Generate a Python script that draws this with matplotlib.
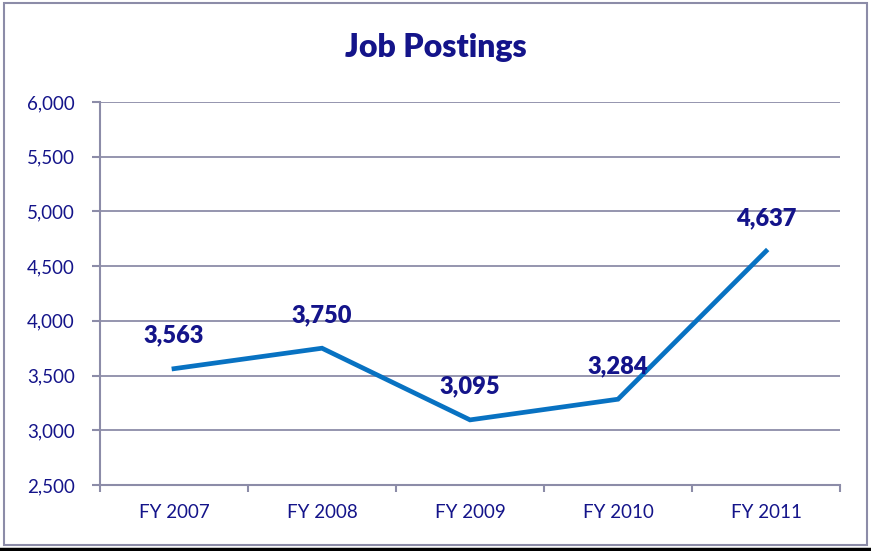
import matplotlib.pyplot as plt
from matplotlib.patches import Rectangle
from matplotlib.lines import Line2D

plt.rcParams['font.family'] = ['Lato', 'DejaVu Sans']

# -------- DATA --------
years = ['FY 2007', 'FY 2008', 'FY 2009', 'FY 2010', 'FY 2011']
postings = [3563, 3750, 3095, 3284, 4637]
y_ticks = [2500, 3000, 3500, 4000, 4500, 5000, 5500, 6000]

navy = '#14148A'
grid_col = '#8C8CA8'
line_col = '#0872C2'

fig = plt.figure(figsize=(8.71, 5.51), dpi=100)
ax = fig.add_axes([100 / 871, 1 - 485 / 551, 740 / 871, 383 / 551])

x = [i + 0.5 for i in range(len(years))]
ax.plot(x, postings, color=line_col, lw=3.4, solid_joinstyle='miter')

for xi, v in zip(x, postings):
    ax.annotate(f"{v:,}", (xi, v), xytext=(0, 24), textcoords='offset points',
                ha='center', va='center', fontsize=17, fontweight='heavy', color=navy)

ax.set_xlim(0, len(years))
ax.set_ylim(2500, 6000)
ax.set_yticks(y_ticks)
ax.set_yticklabels([f"{t:,}" for t in y_ticks], color=navy, fontsize=13.5)
ax.set_xticks(range(len(years) + 1))
ax.set_xticklabels([])
ax.set_xticks(x, minor=True)
ax.set_xticklabels(years, minor=True, color=navy, fontsize=13.5)
ax.tick_params(axis='x', which='minor', length=0, pad=14)
ax.tick_params(axis='x', which='major', length=5, color=grid_col, width=1.5)
ax.tick_params(axis='y', length=6, color=grid_col, width=1.5, pad=12)

ax.grid(axis='y', color=grid_col, lw=1.3)
ax.set_axisbelow(True)
for s in ['top', 'right']:
    ax.spines[s].set_visible(False)
for s in ['left', 'bottom']:
    ax.spines[s].set_color(grid_col)
    ax.spines[s].set_linewidth(1.5)

fig.text(436 / 871, 1 - 47 / 551, 'Job Postings', ha='center', va='center',
         fontsize=23, fontweight='heavy', color=navy)

# outer frame and bottom rule
fig.patches.append(Rectangle((4 / 871, 1 - 545 / 551), 863 / 871, 542 / 551,
                             transform=fig.transFigure, fill=False,
                             edgecolor=grid_col, lw=1.5))
fig.lines.append(Line2D([0, 1], [1 - 549 / 551] * 2, transform=fig.transFigure,
                        color='black', lw=2.5))

fig.savefig('out.png', dpi=100)
